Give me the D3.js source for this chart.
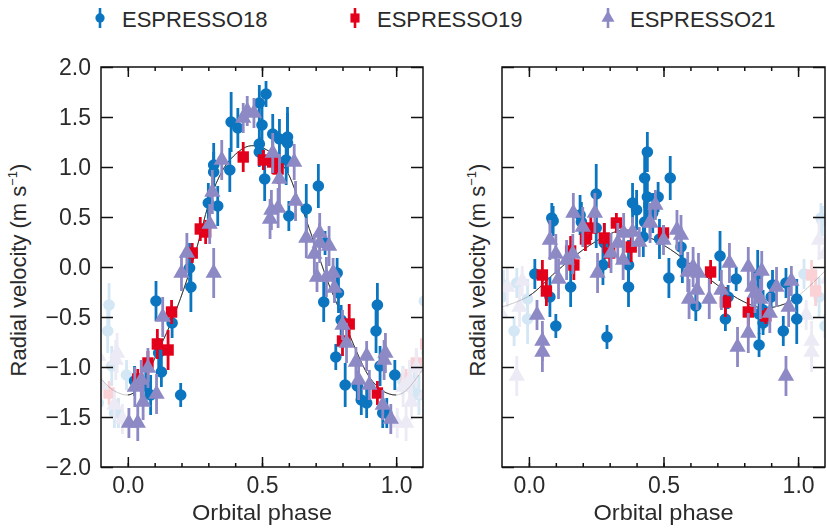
<!DOCTYPE html>
<html>
<head>
<meta charset="utf-8">
<script src="https://cdn.jsdelivr.net/npm/d3@7"></script>
<style>
  body { margin: 0; background: #fff; }
  text { font-family: "Liberation Sans", Arial, sans-serif; fill: #2a2a2a; }
</style>
</head>
<body>
<svg id="chart" width="827" height="528"></svg>
<script>
// [phase, rv, err]
var left18 = [[0.025,-1.14,0.15],[0.067,-1.19,0.18],[0.085,-1.28,0.2],[0.105,-0.34,0.2],[0.115,-0.86,0.15],
  [0.125,-1.05,0.15],[0.165,-0.56,0.15],[0.197,-1.28,0.12],[0.23,-0.01,0.25],[0.235,-0.20,0.25],
  [0.30,0.64,0.2],[0.32,1.02,0.22],[0.32,0.95,0.2],[0.335,0.61,0.2],[0.38,0.97,0.22],[0.385,1.45,0.3],
  [0.41,1.39,0.2],[0.49,1.64,0.18],[0.515,1.73,0.13],[0.50,1.42,0.2],[0.49,1.23,0.15],[0.49,1.15,0.15],
  [0.51,0.88,0.22],[0.54,1.33,0.2],[0.565,1.28,0.2],[0.595,1.30,0.3],[0.595,1.24,0.3],[0.59,1.07,0.25],
  [0.60,0.51,0.15],[0.665,0.58,0.25],[0.71,0.81,0.22],[0.735,0.24,0.12],[0.78,-0.06,0.15],[0.785,-0.26,0.2],
  [0.73,-0.35,0.2],[0.795,-0.53,0.15],[0.93,-0.38,0.22],[0.925,-0.64,0.22],[0.775,-0.90,0.13],[0.94,-0.99,0.2],
  [0.995,-1.08,0.15],[0.81,-1.18,0.22],[0.855,-1.19,0.15],[0.87,-1.33,0.15],[0.89,-1.36,0.15],[0.95,-1.46,0.15],
  [0.965,-1.46,0.15]];
var left19 = [[0.037,-1.12,0.1],[0.075,-0.96,0.12],[0.11,-0.77,0.15],[0.15,-0.83,0.2],[0.163,-0.45,0.12],
  [0.24,0.14,0.1],[0.27,0.38,0.12],[0.29,0.35,0.12],[0.43,1.10,0.15],[0.505,1.07,0.1],[0.54,1.05,0.12],
  [0.56,0.98,0.15],[0.80,-0.74,0.15],[0.825,-0.57,0.2],[0.93,-1.26,0.12]];
var left21 = [[0.004,-1.56,0.15],[0.026,-1.20,0.2],[0.037,-1.56,0.18],[0.05,-1.13,0.2],[0.057,-1.35,0.18],
  [0.075,-1.01,0.2],[0.107,-1.27,0.2],[0.13,-0.50,0.2],[0.20,-0.06,0.18],[0.22,0.14,0.2],[0.32,-0.06,0.25],
  [0.305,0.43,0.2],[0.315,0.75,0.22],[0.35,1.07,0.2],[0.43,1.49,0.15],[0.445,1.56,0.15],[0.47,1.54,0.15],
  [0.53,0.48,0.2],[0.535,0.57,0.2],[0.54,1.14,0.2],[0.565,0.88,0.25],[0.56,0.59,0.2],[0.62,1.05,0.18],
  [0.625,0.66,0.2],[0.665,0.29,0.2],[0.695,0.13,0.2],[0.715,0.34,0.2],[0.715,0.24,0.2],[0.75,0.21,0.2],
  [0.705,-0.10,0.15],[0.74,-0.10,0.2],[0.765,-0.06,0.15],[0.77,-0.21,0.15],[0.80,-0.58,0.15],[0.815,-0.76,0.2],
  [0.85,-0.95,0.15],[0.86,-1.13,0.2],[0.89,-0.89,0.15],[0.90,-1.18,0.15],[0.955,-0.93,0.2],[0.96,-0.86,0.2],
  [0.95,-1.38,0.15],[0.98,-1.52,0.15]];

var right18 = [[0.022,-0.07,0.15],[0.078,-0.30,0.2],[0.085,0.49,0.15],[0.09,0.46,0.15],[0.10,-0.59,0.12],
  [0.155,-0.20,0.2],[0.19,0.52,0.2],[0.195,0.45,0.2],[0.25,0.73,0.3],[0.25,0.39,0.2],[0.275,0.02,0.2],
  [0.28,0.24,0.2],[0.29,-0.70,0.12],[0.37,0.02,0.25],[0.37,-0.20,0.2],[0.385,0.64,0.2],[0.40,0.57,0.2],
  [0.43,0.89,0.3],[0.44,1.15,0.2],[0.44,0.70,0.2],[0.43,0.45,0.2],[0.425,0.30,0.2],[0.46,0.54,0.2],
  [0.48,0.70,0.15],[0.485,0.28,0.2],[0.525,0.89,0.22],[0.52,-0.11,0.2],[0.565,0.20,0.2],[0.57,0.04,0.2],
  [0.62,-0.39,0.15],[0.71,0.11,0.25],[0.73,-0.52,0.12],[0.74,-0.30,0.12],[0.77,-0.12,0.12],[0.85,-0.08,0.25],
  [0.855,-0.47,0.2],[0.87,-0.43,0.2],[0.87,-0.56,0.12],[0.855,-0.78,0.12],[0.90,-0.30,0.15],[0.905,-0.18,0.15],
  [0.955,-0.16,0.15],[0.945,-0.64,0.15],[0.995,-0.32,0.2],[0.995,-0.52,0.25]];
var right19 = [[0.05,-0.08,0.15],[0.065,-0.24,0.15],[0.155,0.16,0.15],[0.167,0.02,0.15],[0.21,0.28,0.12],
  [0.23,0.39,0.12],[0.28,0.29,0.15],[0.30,0.14,0.15],[0.325,0.44,0.1],[0.38,0.20,0.15],[0.50,0.34,0.08],
  [0.675,-0.05,0.12],[0.73,-0.35,0.15],[0.815,-0.45,0.15],[0.88,-0.49,0.08]];
var right21 = [[0.03,-0.48,0.15],[0.05,-0.74,0.2],[0.05,-0.85,0.2],[0.078,0.27,0.2],[0.10,0.13,0.2],
  [0.11,-0.12,0.2],[0.14,0.07,0.2],[0.163,0.13,0.2],[0.165,0.54,0.2],[0.20,0.40,0.2],[0.245,0.54,0.2],
  [0.255,-0.06,0.2],[0.305,0.14,0.2],[0.33,0.24,0.2],[0.35,0.07,0.2],[0.352,0.34,0.2],[0.385,0.35,0.15],
  [0.41,0.25,0.15],[0.45,0.44,0.2],[0.47,0.62,0.15],[0.45,0.45,0.15],[0.50,0.27,0.15],[0.55,0.37,0.2],
  [0.565,0.32,0.2],[0.59,-0.05,0.2],[0.61,0.00,0.2],[0.63,-0.06,0.2],[0.595,-0.32,0.2],[0.625,-0.23,0.2],
  [0.67,-0.32,0.2],[0.715,-0.23,0.2],[0.745,0.04,0.2],[0.775,-0.80,0.2],[0.815,0.00,0.2],[0.83,-0.20,0.2],
  [0.84,-0.26,0.2],[0.865,-0.04,0.2],[0.815,-0.66,0.2],[0.86,-0.32,0.2],[0.895,-0.46,0.2],[0.92,-0.20,0.2],
  [0.965,-0.40,0.2],[0.975,-0.14,0.15],[0.955,-1.09,0.2]];

// model curves [phase, rv]
var leftModel = [[-0.1,-1.12],[-0.05,-1.24],[0,-1.28],[0.03,-1.24],[0.075,-1.05],[0.12,-0.80],[0.17,-0.50],
  [0.22,-0.13],[0.26,0.22],[0.30,0.62],[0.34,0.90],[0.38,1.07],[0.44,1.20],[0.48,1.21],[0.53,1.15],
  [0.59,0.97],[0.63,0.72],[0.665,0.47],[0.71,0.12],[0.75,-0.18],[0.80,-0.50],[0.85,-0.83],[0.90,-1.10],
  [0.95,-1.24],[1.0,-1.28],[1.035,-1.24],[1.1,-1.02]];
var rightModel = [[-0.1,-0.40],[0,-0.29],[0.1,-0.05],[0.2,0.17],[0.3,0.33],[0.35,0.37],[0.4,0.35],
  [0.5,0.22],[0.6,0.03],[0.7,-0.18],[0.8,-0.35],[0.87,-0.41],[0.95,-0.37],[1.0,-0.29],[1.1,-0.04]];

var series = ["ESPRESSO18", "ESPRESSO19", "ESPRESSO21"];
var colors = {ESPRESSO18: "#0b75c0", ESPRESSO19: "#e2001a", ESPRESSO21: "#8c89c5"};
var yTickValues = [-2, -1.5, -1, -0.5, 0, 0.5, 1, 1.5, 2];
var xMajor = [0, 0.5, 1];
var xMinor = d3.range(0, 11).map(function(i) { return i / 10; });

var svg = d3.select("#chart");
var top_ = 67, bottom = 467;
var y = d3.scaleLinear().domain([-2, 2]).range([bottom, top_]);

var panels = [
  {x0: 101, x1: 423, data: {ESPRESSO18: left18, ESPRESSO19: left19, ESPRESSO21: left21}, model: leftModel, labels: true, id: "a", ylab: 26},
  {x0: 502, x1: 825, data: {ESPRESSO18: right18, ESPRESSO19: right19, ESPRESSO21: right21}, model: rightModel, labels: false, id: "b", ylab: 485}
];

function drawMarker(sel, name, s) {
  if (name === "ESPRESSO18") {
    sel.append("circle").attr("r", 5.8 * s).attr("fill", colors[name]);
  } else if (name === "ESPRESSO19") {
    sel.append("rect").attr("x", -5.7 * s).attr("y", -5.7 * s).attr("width", 11.4 * s).attr("height", 11.4 * s)
      .attr("fill", colors[name]);
  } else {
    sel.append("path").attr("d", d3.symbol(d3.symbolTriangle, 115 * s * s)()).attr("fill", colors[name]);
  }
}

panels.forEach(function(p) {
  var x = d3.scaleLinear().domain([-0.1, 1.1]).range([p.x0, p.x1]);
  var g = svg.append("g");

  g.append("clipPath").attr("id", "clip" + p.id).append("rect")
    .attr("x", p.x0).attr("y", top_).attr("width", p.x1 - p.x0).attr("height", bottom - top_);
  g.append("clipPath").attr("id", "inner" + p.id).append("rect")
    .attr("x", x(0)).attr("y", top_).attr("width", x(1) - x(0)).attr("height", bottom - top_);
  var plot = g.append("g").attr("clip-path", "url(#clip" + p.id + ")");

  var line = d3.line().x(function(d) { return x(d[0]); }).y(function(d) { return y(d[1]); })
    .curve(d3.curveCatmullRom);
  // light curve everywhere, dark one only over [0,1]
  plot.append("path").datum(p.model).attr("d", line)
    .attr("fill", "none").attr("stroke", "#c8c8c8").attr("stroke-width", 1);
  plot.append("path").datum(p.model).attr("d", line)
    .attr("fill", "none").attr("stroke", "#333").attr("stroke-width", 1)
    .attr("clip-path", "url(#inner" + p.id + ")");

  // faded copies outside one full phase
  var faded = plot.append("g").attr("opacity", 0.18);
  var main = plot.append("g");

  series.forEach(function(name) {
    var pts = p.data[name];
    var copies = [];
    pts.forEach(function(d) {
      if (d[0] > 0.88) copies.push([d[0] - 1, d[1], d[2]]);
      if (d[0] < 0.12) copies.push([d[0] + 1, d[1], d[2]]);
    });
    [[faded, copies], [main, pts]].forEach(function(pair) {
      var grp = pair[0].append("g");
      var node = grp.selectAll("g").data(pair[1]).enter().append("g")
        .attr("transform", function(d) { return "translate(" + x(d[0]) + "," + y(d[1]) + ")"; });
      node.append("line")
        .attr("y1", function(d) { return y(d[1] + d[2]) - y(d[1]); })
        .attr("y2", function(d) { return y(d[1] - d[2]) - y(d[1]); })
        .attr("stroke", colors[name]).attr("stroke-width", 2.8);
      node.each(function() { drawMarker(d3.select(this), name, 1); });
    });
  });

  // frame
  g.append("rect").attr("x", p.x0).attr("y", top_).attr("width", p.x1 - p.x0).attr("height", bottom - top_)
    .attr("fill", "none").attr("stroke", "#111").attr("stroke-width", 1.5);

  // x ticks (inside, top & bottom)
  var xb = d3.axisBottom(x).tickValues(xMinor).tickSize(-4).tickFormat("");
  var xt = d3.axisTop(x).tickValues(xMinor).tickSize(-4).tickFormat("");
  var xbM = d3.axisBottom(x).tickValues(xMajor).tickSize(-10).tickPadding(10).tickFormat(d3.format(".1f"));
  var xtM = d3.axisTop(x).tickValues(xMajor).tickSize(-10).tickFormat("");
  [[xb, bottom], [xt, top_], [xbM, bottom], [xtM, top_]].forEach(function(a) {
    var ag = g.append("g").attr("transform", "translate(0," + a[1] + ")").call(a[0]);
    ag.select(".domain").remove();
    ag.selectAll("line").attr("stroke", "#111").attr("stroke-width", 1.5);
    ag.selectAll("text").attr("font-size", 23).attr("fill", "#2a2a2a").attr("font-family", "Liberation Sans, Arial, sans-serif");
  });

  // y ticks (inside, left & right)
  var yl = d3.axisLeft(y).tickValues(yTickValues).tickSize(-12).tickPadding(10)
    .tickFormat(p.labels ? function(d) { return d3.format(".1f")(d).replace("-", "\u2212"); } : "");
  var yr = d3.axisRight(y).tickValues(yTickValues).tickSize(-12).tickFormat("");
  [[yl, p.x0], [yr, p.x1]].forEach(function(a) {
    var ag = g.append("g").attr("transform", "translate(" + a[1] + ",0)").call(a[0]);
    ag.select(".domain").remove();
    ag.selectAll("line").attr("stroke", "#111").attr("stroke-width", 1.5);
    ag.selectAll("text").attr("font-size", 23).attr("fill", "#2a2a2a").attr("font-family", "Liberation Sans, Arial, sans-serif");
  });

  // axis titles
  g.append("text").attr("x", x(0.5)).attr("y", 520).attr("text-anchor", "middle")
    .attr("font-size", 22).attr("textLength", 140).attr("lengthAdjust", "spacingAndGlyphs").text("Orbital phase");
  var yt = g.append("text").attr("transform", "translate(" + p.ylab + ",270) rotate(-90)")
    .attr("text-anchor", "middle").attr("font-size", 22);
  yt.append("tspan").text("Radial velocity (m s");
  yt.append("tspan").attr("font-size", 13).attr("dy", -9).text("\u22121");
  yt.append("tspan").attr("dy", 9).text(")");
});

// legend
var legendX = [100, 355, 608];
series.forEach(function(name, i) {
  var lg = svg.append("g").attr("transform", "translate(" + legendX[i] + ",18)");
  lg.append("line").attr("y1", -10).attr("y2", 10).attr("stroke", colors[name]).attr("stroke-width", 2.6);
  drawMarker(lg, name, 0.8);
  lg.append("text").attr("x", 22).attr("y", 9).attr("font-size", 22).text(name);
});
</script>
</body>
</html>
